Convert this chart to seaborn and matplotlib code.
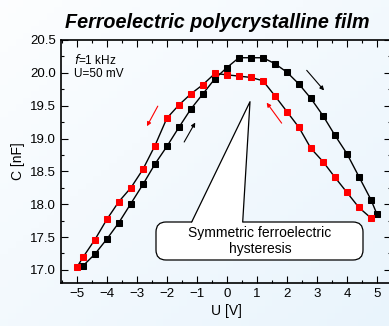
import numpy as np
import pandas as pd
import seaborn as sns
import matplotlib.pyplot as plt
from matplotlib.patches import FancyBboxPatch, Polygon
from matplotlib.ticker import MultipleLocator

# Forward sweep (black): -5 V -> +5 V
u_up = [-5.0, -4.8, -4.4, -4.0, -3.6, -3.2, -2.8, -2.4, -2.0, -1.6, -1.2, -0.8, -0.4,
        0.0, 0.4, 0.8, 1.2, 1.6, 2.0, 2.4, 2.8, 3.2, 3.6, 4.0, 4.4, 4.8, 5.0]
c_up = [17.04, 17.06, 17.24, 17.47, 17.72, 18.01, 18.30, 18.61, 18.88, 19.17, 19.45, 19.68, 19.91,
        20.08, 20.23, 20.23, 20.23, 20.14, 20.01, 19.83, 19.61, 19.35, 19.05, 18.77, 18.42, 18.07, 17.85]

# Backward sweep (red): +5 V -> -5 V
u_down = [5.0, 4.8, 4.4, 4.0, 3.6, 3.2, 2.8, 2.4, 2.0, 1.6, 1.2, 0.8, 0.4,
          0.0, -0.4, -0.8, -1.2, -1.6, -2.0, -2.4, -2.8, -3.2, -3.6, -4.0, -4.4, -4.8, -5.0]
c_down = [17.85, 17.79, 17.95, 18.18, 18.41, 18.65, 18.85, 19.17, 19.41, 19.65, 19.88, 19.93, 19.95,
          19.97, 19.99, 19.82, 19.68, 19.51, 19.31, 18.89, 18.53, 18.25, 18.04, 17.77, 17.46, 17.19, 17.04]

df_up = pd.DataFrame({"U": u_up, "C": c_up})
df_down = pd.DataFrame({"U": u_down, "C": c_down})

sns.set_style("ticks", {"axes.edgecolor": "black", "xtick.color": "black", "ytick.color": "black",
                        "text.color": "black", "axes.labelcolor": "black"})
plt.rcParams['font.family'] = ['Liberation Sans', 'DejaVu Sans']

fig = plt.figure(figsize=(3.89, 3.26), dpi=100)

# light blue gradient background
bg = fig.add_axes([0, 0, 1, 1], zorder=-10)
gx, gy = np.meshgrid(np.linspace(0, 1, 50), np.linspace(0, 1, 50))
g = (gx + gy) / 2
top = np.array([0.99, 0.995, 1.0])
bot = np.array([0.915, 0.958, 0.99])
img = top[None, None, :] * (1 - g[..., None]) + bot[None, None, :] * g[..., None]
bg.imshow(img, aspect="auto", extent=[0, 1, 0, 1])
bg.axis("off")

ax = fig.add_axes([61 / 389, (326 - 283) / 326, 330 / 389, (283 - 40) / 326])
ax.patch.set_alpha(0)

sns.lineplot(data=df_down, x="U", y="C", sort=False, ax=ax, color="black", lw=1,
             marker="s", markersize=3.8, markerfacecolor="red", markeredgecolor="red",
             markevery=list(range(1, len(u_down))), zorder=3)
sns.lineplot(data=df_up, x="U", y="C", sort=False, ax=ax, color="black", lw=1,
             marker="s", markersize=3.8, markerfacecolor="black", markeredgecolor="black",
             markevery=list(range(1, len(u_up))), zorder=2)

ax.set_xlim(-5.53, 5.47)
ax.set_ylim(16.8, 20.5)
ax.xaxis.set_major_locator(MultipleLocator(1))
ax.xaxis.set_minor_locator(MultipleLocator(0.5))
ax.yaxis.set_major_locator(MultipleLocator(0.5))
ax.yaxis.set_minor_locator(MultipleLocator(0.25))
ax.yaxis.set_major_formatter(plt.FormatStrFormatter("%.1f"))
ax.tick_params(which="both", direction="in", top=True, right=True, labelsize=9.5, width=0.8,
               colors="black")
ax.tick_params(which="major", length=5)
ax.tick_params(which="minor", length=2.5)
for s in ax.spines.values():
    s.set_linewidth(1.2)
    s.set_color("black")

ax.set_xlabel("U [V]", fontsize=10, labelpad=3)
ax.set_ylabel("C [nF]", fontsize=10, labelpad=4)
fig.text(217.5 / 389, 1 - 22 / 326, "Ferroelectric polycrystalline film", fontsize=14.2,
         fontweight="bold", fontstyle="italic", ha="center", va="center")

ax.text(-5.1, 20.20, "$\\it{f}$=1 kHz", fontsize=8.5, va="center", ha="left")
ax.text(-5.1, 19.98, "U=50 mV", fontsize=8.5, va="center", ha="left")

# sweep direction arrows
arr = dict(arrowstyle="-|>", lw=0.8, mutation_scale=6)
ax.annotate("", xy=(-1.01, 19.28), xytext=(-1.47, 18.91), arrowprops=dict(arr, color="black"))
ax.annotate("", xy=(3.3, 19.70), xytext=(2.6, 20.07), arrowprops=dict(arr, color="black"))
ax.annotate("", xy=(-2.71, 19.15), xytext=(-2.26, 19.53), arrowprops=dict(arr, color="red"))
ax.annotate("", xy=(1.27, 19.58), xytext=(1.88, 19.2), arrowprops=dict(arr, color="red"))

# callout box
tr = fig.dpi_scale_trans
box = FancyBboxPatch((1.56, 0.66), 2.07, 0.38, boxstyle="round,pad=0,rounding_size=0.1",
                     transform=tr, facecolor="white", edgecolor="black", lw=0.9, zorder=5)
fig.patches.append(box)
wedge = Polygon([(1.917, 1.03), (2.50, 2.243), (2.427, 1.03)], closed=True, transform=tr,
                facecolor="white", edgecolor="none", zorder=6)
fig.patches.append(wedge)
fig.add_artist(plt.Line2D([1.917, 2.50, 2.427], [1.04, 2.243, 1.04], transform=tr,
                          color="black", lw=0.9, zorder=7))
fig.text(2.60 / 3.89, 0.85 / 3.26, "Symmetric ferroelectric\nhysteresis", ha="center",
         va="center", fontsize=10, linespacing=1.15, zorder=8)

fig.savefig("out.png", dpi=100)
